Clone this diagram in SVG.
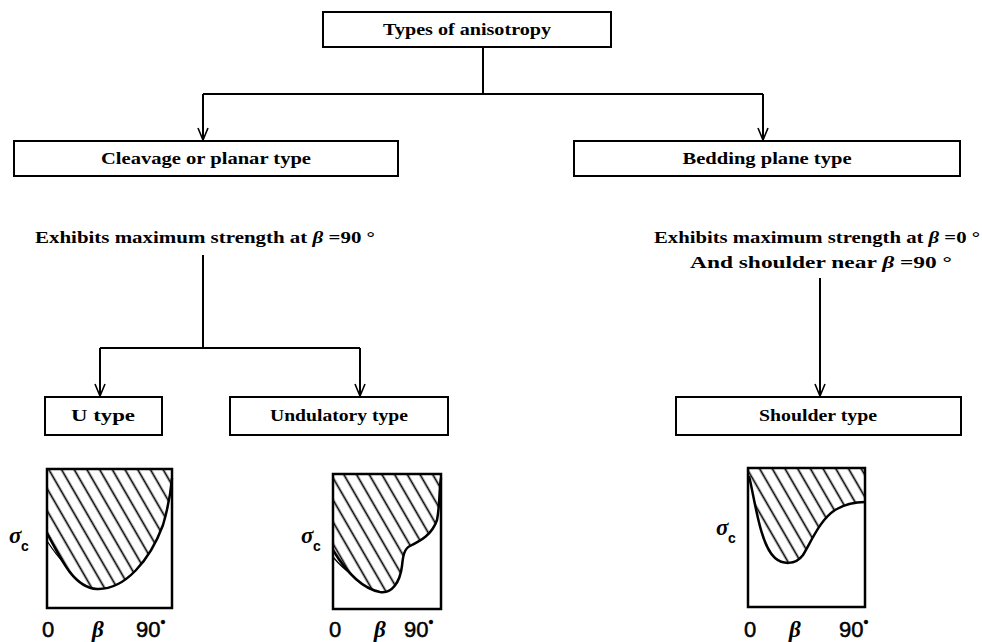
<svg xmlns="http://www.w3.org/2000/svg" width="982" height="642" viewBox="0 0 982 642">
<defs>
<style>
.box{fill:#fff;stroke:#000;stroke-width:2}
.t{font-family:"Liberation Serif",serif;font-weight:bold;font-size:17px;fill:#000;text-anchor:middle}
.con{fill:none;stroke:#000;stroke-width:2}
.frame{fill:none;stroke:#000;stroke-width:2.5}
.curve{fill:none;stroke:#000;stroke-width:2.5}
.thin{fill:none;stroke:#000;stroke-width:1.3}
.ax{font-family:"Liberation Sans",sans-serif;font-size:22px;fill:#000;stroke:#000;stroke-width:0.5}
.gr{font-family:"Liberation Serif",serif;font-style:italic;font-weight:bold;font-size:23px;fill:#000}
.sub{font-family:"Liberation Sans",sans-serif;font-weight:bold;font-size:14px;fill:#000}
</style>
<marker id="arr" markerWidth="14" markerHeight="12" refX="13" refY="6" orient="auto" markerUnits="userSpaceOnUse" viewBox="0 0 14 12">
<path d="M1,1 L13,6 L1,11" fill="none" stroke="#000" stroke-width="1.6"/>
</marker>
<pattern id="hatch" patternUnits="userSpaceOnUse" width="11" height="11" patternTransform="rotate(-30)">
<line x1="5.5" y1="-1" x2="5.5" y2="12" stroke="#000" stroke-width="1.7"/>
</pattern>
</defs>

<g id="connectors">
<path class="con" d="M483,47 V94"/>
<path class="con" d="M203,94 H763"/>
<path class="con" d="M203,94 V140" marker-end="url(#arr)"/>
<path class="con" d="M763,94 V140" marker-end="url(#arr)"/>
<path class="con" d="M203,255 V348"/>
<path class="con" d="M100,348 H360"/>
<path class="con" d="M100,348 V396" marker-end="url(#arr)"/>
<path class="con" d="M360,348 V396" marker-end="url(#arr)"/>
<path class="con" d="M820,278 V396" marker-end="url(#arr)"/>
</g>

<g id="n-root">
<rect class="box" x="323" y="12" width="288" height="35"/>
<text class="t" x="467" y="35" textLength="168" lengthAdjust="spacingAndGlyphs">Types of anisotropy</text>
</g>
<g id="n-cleavage">
<rect class="box" x="14" y="141" width="384" height="35"/>
<text class="t" x="206" y="164" textLength="210" lengthAdjust="spacingAndGlyphs">Cleavage or planar type</text>
</g>
<g id="n-bedding">
<rect class="box" x="574" y="141" width="386" height="35"/>
<text class="t" x="767" y="164" textLength="169" lengthAdjust="spacingAndGlyphs">Bedding plane type</text>
</g>
<g id="n-cleavage-note">
<text class="t" x="205" y="243" textLength="340" lengthAdjust="spacingAndGlyphs">Exhibits maximum strength at <tspan font-style="italic">β</tspan>  =90 °</text>
</g>
<g id="n-bedding-note">
<text class="t" x="817" y="243" textLength="326" lengthAdjust="spacingAndGlyphs">Exhibits maximum strength at <tspan font-style="italic">β</tspan>  =0 °</text>
<text class="t" x="821" y="268" textLength="262" lengthAdjust="spacingAndGlyphs">And shoulder near <tspan font-style="italic">β</tspan>  =90 °</text>
</g>
<g id="n-u">
<rect class="box" x="45" y="397" width="117" height="38"/>
<text class="t" x="103" y="421" textLength="64" lengthAdjust="spacingAndGlyphs">U type</text>
</g>
<g id="n-undulatory">
<rect class="box" x="230" y="397" width="218" height="38"/>
<text class="t" x="339" y="421" textLength="138" lengthAdjust="spacingAndGlyphs">Undulatory type</text>
</g>
<g id="n-shoulder">
<rect class="box" x="676" y="397" width="285" height="38"/>
<text class="t" x="818" y="421" textLength="118" lengthAdjust="spacingAndGlyphs">Shoulder type</text>
</g>

<g id="plot-u">
<path fill="url(#hatch)" d="M172,478 C171,490 168,508 163,525 C150,560 125,590 97,589 C75,588 62,562 47,533 V469 H172 Z"/>
<path class="curve" d="M172,478 C171,490 168,508 163,525 C150,560 125,590 97,589 C75,588 62,562 47,533"/>
<path class="thin" d="M47,541 C53,550 58,557 64,563"/>
<rect class="frame" x="47" y="469" width="125" height="139"/>
<text class="gr" x="9" y="543">σ</text><text class="sub" x="21" y="551">c</text>
<text class="ax" x="42" y="637">0</text>
<text class="gr" x="92" y="637">β</text>
<text class="ax" x="136" y="637">90<tspan font-size="14" dy="-10">•</tspan></text>
</g>

<g id="plot-undulatory">
<path fill="url(#hatch)" d="M441,478 C439,490 440,505 437,520 C432,535 420,541 410,546 C404,549 403,556 402,566 C400,582 392,594 380,592 C360,588 345,570 333,550 V474 H441 Z"/>
<path class="curve" d="M441,478 C439,490 440,505 437,520 C432,535 420,541 410,546 C404,549 403,556 402,566 C400,582 392,594 380,592 C360,588 345,570 333,550"/>
<path class="thin" d="M333,557 C339,564 344,569 350,573"/>
<rect class="frame" x="333" y="474" width="108" height="135"/>
<text class="gr" x="301" y="543">σ</text><text class="sub" x="313" y="551">c</text>
<text class="ax" x="329" y="637">0</text>
<text class="gr" x="374" y="637">β</text>
<text class="ax" x="404" y="637">90<tspan font-size="14" dy="-10">•</tspan></text>
</g>

<g id="plot-shoulder">
<path fill="url(#hatch)" d="M749,476 C755,500 760,545 775,558 C782,564 795,566 803,555 C812,540 820,520 835,510 C845,504 855,502 865,502 V468 H748 Z"/>
<path class="curve" d="M749,476 C755,500 760,545 775,558 C782,564 795,566 803,555 C812,540 820,520 835,510 C845,504 855,502 865,502"/>
<rect class="frame" x="748" y="468" width="117" height="139"/>
<text class="gr" x="716" y="535">σ</text><text class="sub" x="728" y="543">c</text>
<text class="ax" x="744" y="637">0</text>
<text class="gr" x="789" y="637">β</text>
<text class="ax" x="839" y="637">90<tspan font-size="14" dy="-10">•</tspan></text>
</g>
</svg>
